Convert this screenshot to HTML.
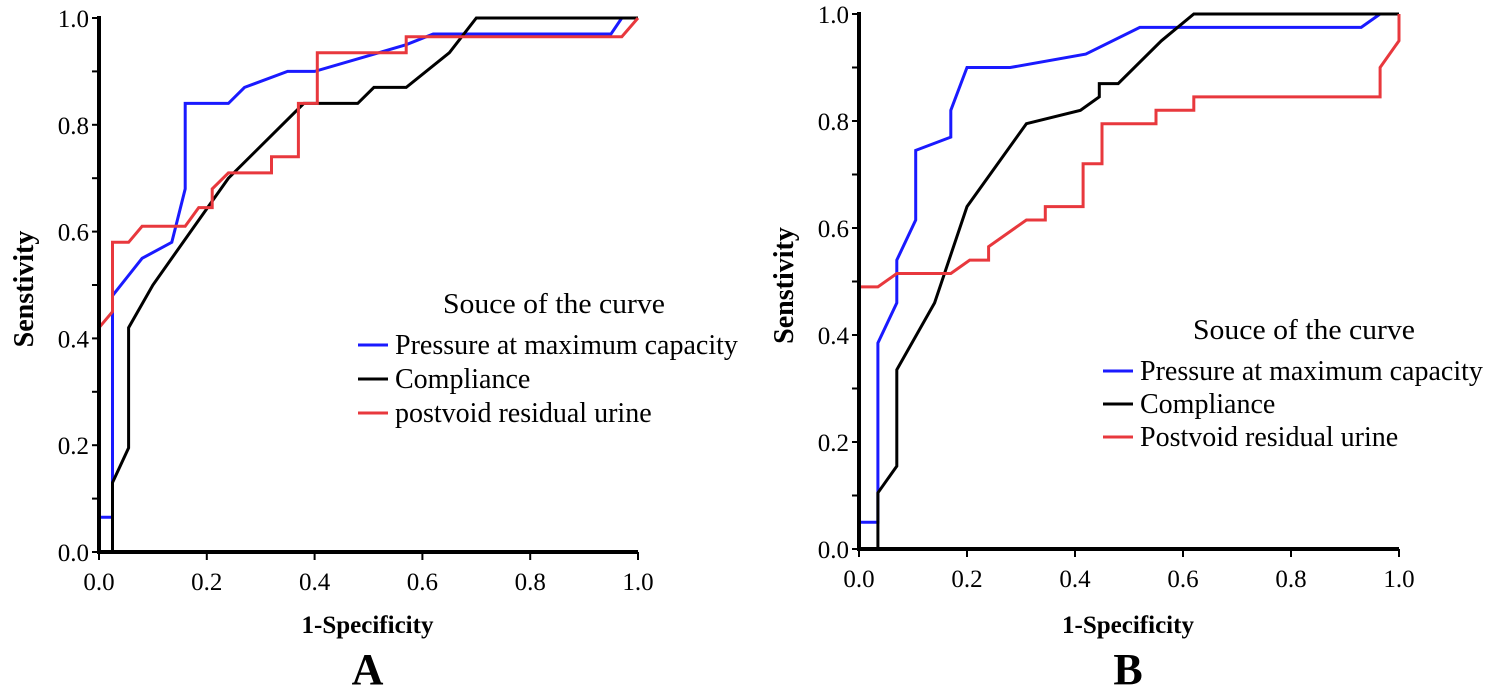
<!DOCTYPE html>
<html><head><meta charset="utf-8"><style>
body{margin:0;background:#fff}
svg{display:block;font-family:"Liberation Serif",serif}
</style></head><body>
<svg id="c" width="1500" height="688" viewBox="0 0 1500 688"></svg>
<script>
const ticks=[0,0.2,0.4,0.6,0.8,1.0];
const tickLabels=["0.0","0.2","0.4","0.6","0.8","1.0"];
const seriesNames=["Pressure at maximum capacity","Compliance","postvoid residual urine"];
const seriesNamesB=["Pressure at maximum capacity","Compliance","Postvoid residual urine"];
const colors=["#1a1aff","#000000","#e8383d"];
const aBlueX=[0,0.025,0.025,0.08,0.135,0.16,0.16,0.24,0.27,0.35,0.40,0.57,0.62,0.95,0.97,1];
const aBlueY=[0.065,0.065,0.48,0.55,0.58,0.68,0.84,0.84,0.87,0.90,0.90,0.95,0.97,0.97,1,1];
const aBlackX=[0.025,0.025,0.055,0.055,0.1,0.17,0.24,0.38,0.48,0.51,0.57,0.65,0.7,1];
const aBlackY=[0,0.13,0.195,0.42,0.5,0.6,0.7,0.84,0.84,0.87,0.87,0.935,1,1];
const aRedX=[0,0.025,0.025,0.055,0.08,0.16,0.185,0.21,0.21,0.24,0.32,0.32,0.37,0.37,0.405,0.405,0.57,0.57,0.97,1];
const aRedY=[0.42,0.45,0.58,0.58,0.61,0.61,0.645,0.645,0.68,0.71,0.71,0.74,0.74,0.84,0.84,0.935,0.935,0.965,0.965,1];
const bBlueX=[0,0.035,0.035,0.07,0.07,0.105,0.105,0.17,0.17,0.2,0.28,0.42,0.52,0.93,0.965,1];
const bBlueY=[0.05,0.05,0.385,0.46,0.54,0.615,0.745,0.77,0.82,0.9,0.9,0.925,0.975,0.975,1,1];
const bBlackX=[0.035,0.035,0.07,0.07,0.14,0.2,0.31,0.41,0.445,0.445,0.48,0.56,0.62,1];
const bBlackY=[0,0.105,0.155,0.335,0.46,0.64,0.795,0.82,0.845,0.87,0.87,0.95,1,1];
const bRedX=[0,0,0.035,0.07,0.17,0.205,0.24,0.24,0.31,0.345,0.345,0.415,0.415,0.45,0.45,0.55,0.55,0.62,0.62,0.965,0.965,1,1];
const bRedY=[0,0.49,0.49,0.515,0.515,0.54,0.54,0.565,0.615,0.615,0.64,0.64,0.72,0.72,0.795,0.795,0.82,0.82,0.845,0.845,0.9,0.95,1];

const NS="http://www.w3.org/2000/svg";
const svg=document.getElementById('c');
function el(t,a,p){const e=document.createElementNS(NS,t);for(const k in a)e.setAttribute(k,a[k]);(p||svg).appendChild(e);return e;}
function txt(s,a,p){const e=el('text',a,p);e.textContent=s;return e;}

function panel(id,x0,x1,y0,y1,series,names,leg,letter){
  const g=el('g',{});
  
  
  const sx=v=>x0+v*(x1-x0), sy=v=>y0-v*(y0-y1);
  series.forEach((s,i)=>{
    const pts=s[0].map((x,j)=>sx(x).toFixed(1)+','+sy(s[1][j]).toFixed(1)).join(' ');
    const pl=el('polyline',{points:pts,fill:'none',stroke:colors[i],'stroke-width':3,'stroke-linejoin':'miter'},g);
    
    
  });
  const ax=el('path',{d:`M${x0},${y1-2}V${y0}H${x1}`,fill:'none',stroke:'#000','stroke-width':4},g);
  
  
  for(let k=0;k<=10;k++){
    const v=k/10;
    el('line',{x1:x0-7,x2:x0,y1:sy(v),y2:sy(v),stroke:'#000','stroke-width':2},g);
  }
  ticks.forEach((v,i)=>{
    el('line',{x1:sx(v),x2:sx(v),y1:y0,y2:y0+8,stroke:'#000','stroke-width':2},g);
    const t=txt(tickLabels[i],{x:sx(v),y:y0+38,'font-size':25,'text-anchor':'middle'},g);
    
    
    const u=txt(tickLabels[i],{x:x0-10,y:sy(v)+9,'font-size':25,'text-anchor':'end'},g);
    
    
  });
  const yt=txt('Senstivity',{x:0,y:0,'font-size':28,'font-weight':'bold','text-anchor':'middle',transform:`translate(${x0-66},${(y0+y1)/2+4}) rotate(-90)`},g);
  
  
  const xt=txt('1-Specificity',{x:(x0+x1)/2-1,y:633,'font-size':25,'font-weight':'bold','text-anchor':'middle'},g);
  
  
  const lt=txt(letter,{x:(x0+x1)/2-1,y:684,'font-size':44,'font-weight':'bold','text-anchor':'middle'},g);
  
  
  const lg=el('g',{},g);
  
  
  txt('Souce of the curve',{x:leg.tx,y:leg.ty,'font-size':28,textLength:222,lengthAdjust:'spacingAndGlyphs'},lg);
  names.forEach((n,i)=>{
    const y=leg.y+i*leg.dy;
    el('line',{x1:leg.lx,x2:leg.lx+30,y1:y,y2:y,stroke:colors[i],'stroke-width':3},lg);
    const e=txt(n,{x:leg.lx+37,y:y+9,'font-size':28},lg);
    
    
  });
}
panel('a',99,638,552,18,[[aBlueX,aBlueY],[aBlackX,aBlackY],[aRedX,aRedY]],seriesNames,{tx:443,ty:313,lx:358,y:345,dy:34},'A');
panel('b',859,1399,549,14,[[bBlueX,bBlueY],[bBlackX,bBlackY],[bRedX,bRedY]],seriesNamesB,{tx:1193,ty:339,lx:1103,y:371,dy:33},'B');
</script>
</body></html>
